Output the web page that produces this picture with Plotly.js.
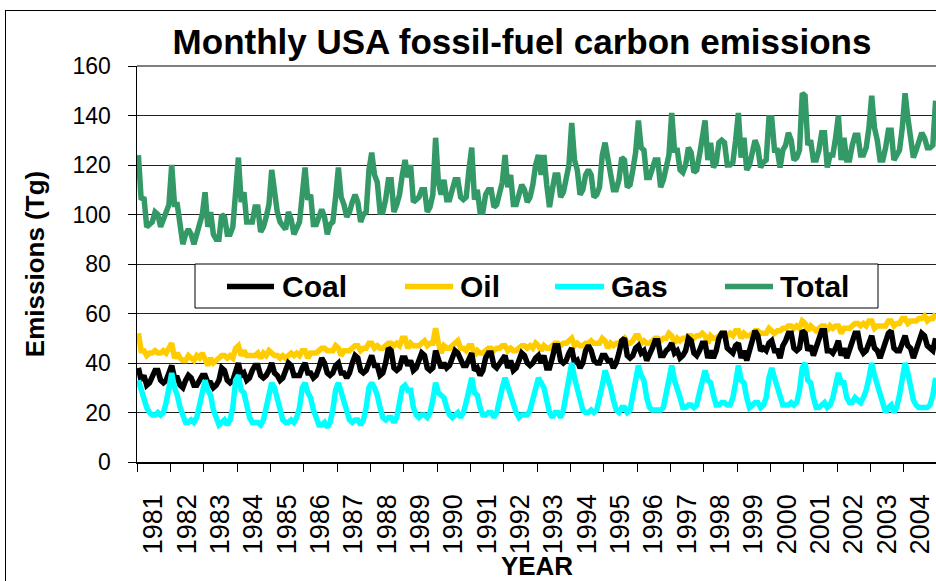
<!DOCTYPE html>
<html><head><meta charset="utf-8">
<script src="https://cdn.plot.ly/plotly-3.0.1.min.js"></script>
<style>
html,body{margin:0;padding:0;background:#fff;overflow:hidden;width:936px;height:581px;}
#chart{position:absolute;left:0;top:0;width:937px;height:581px;}
#frame{position:absolute;left:5px;top:10px;width:1000px;height:1000px;border-left:1px solid #000;border-top:1px solid #000;pointer-events:none;}
</style></head><body>
<div id="chart"></div><div id="frame"></div>
<script>
const years = ['1981','1982','1983','1984','1985','1986','1987','1988','1989','1990','1991','1992',
               '1993','1994','1995','1996','1997','1998','1999','2000','2001','2002','2003','2004'];
const seriesNames = ['Coal','Oil','Gas','Total'];

// monthly values (Tg), one row per year, Jan..Dec
const coal = [
 38,33,35,31,32,35,37,37,33,32,33,36,
 39,34,34,31,30,33,35,34,31,31,33,35,
 35,32,32,30,31,33,38,37,33,32,33,37,
 40,35,36,33,34,37,39,39,35,34,35,37,
 40,36,35,33,34,37,40,39,35,35,35,38,
 40,36,36,34,35,38,42,40,36,35,36,39,
 40,36,36,34,36,40,43,42,37,36,37,40,
 43,39,39,35,36,40,46,45,38,37,38,42,
 42,39,41,37,38,41,44,43,38,37,38,45,
 42,38,40,38,39,43,45,44,41,39,39,42,
 44,37,38,35,37,42,44,44,39,38,40,41,
 43,38,41,37,38,41,44,43,40,39,40,42,
 43,40,43,38,38,42,47,47,41,40,41,44,
 46,40,41,38,40,45,47,45,41,40,40,43,
 43,41,41,38,40,44,49,50,43,42,43,46,
 47,44,45,41,43,46,49,49,43,43,45,46,
 48,44,45,42,43,45,50,49,44,43,45,48,
 48,42,45,42,45,50,52,52,46,45,44,47,
 48,42,45,41,45,49,53,51,45,46,45,48,
 49,45,45,42,47,49,52,52,46,45,46,53,
 52,45,47,43,46,49,53,53,45,45,44,46,
 49,43,46,42,45,49,52,52,46,44,45,48,
 51,46,45,42,45,48,52,53,46,45,45,48,
 51,47,46,42,45,49,52,51,47,46,45,50
];
const oil = [
 52,45,45,43,44,44,45,44,44,45,44,46,
 48,42,44,42,41,41,43,42,41,43,42,44,
 42,39,42,40,41,42,43,43,42,43,42,46,
 47,43,45,43,43,43,43,44,42,44,43,45,
 44,43,43,42,43,42,43,44,43,44,43,45,
 45,42,44,44,44,45,46,46,45,45,45,47,
 46,43,45,45,45,46,47,47,45,46,46,48,
 48,46,47,46,46,47,48,48,47,48,47,50,
 50,46,48,47,47,47,48,49,47,48,48,54,
 48,44,47,46,46,47,48,49,46,46,45,47,
 47,43,45,44,44,45,46,46,45,46,46,47,
 47,45,46,45,45,46,47,47,46,47,46,48,
 47,45,47,46,46,47,48,48,47,48,48,49,
 50,47,48,47,47,48,48,49,48,48,48,50,
 49,46,48,47,48,48,49,50,48,48,49,51,
 51,48,49,48,48,49,50,50,49,50,50,52,
 51,48,50,49,50,50,51,51,50,51,51,52,
 51,48,51,50,50,51,52,52,51,52,51,53,
 53,50,52,51,51,52,53,53,52,52,52,54,
 53,52,53,53,54,54,55,55,54,55,54,57,
 56,53,55,54,53,54,55,55,53,55,54,55,
 55,52,54,54,54,55,56,56,55,56,55,57,
 57,54,55,55,55,55,57,57,55,56,56,58,
 58,56,57,57,57,58,58,59,57,58,58,60
];
const gas = [
 33,29,26,22,20,19,19,20,19,20,24,30,
 36,30,27,22,18,16,16,17,16,18,23,29,
 33,29,27,21,17,15,16,17,15,17,22,33,
 35,29,28,22,18,16,16,16,15,17,22,28,
 32,30,26,20,17,16,16,17,16,18,22,30,
 32,28,26,21,17,15,15,16,14,16,21,29,
 32,28,25,20,17,16,17,17,15,17,22,30,
 32,30,27,22,18,17,18,18,16,18,23,30,
 31,29,29,22,19,18,19,19,18,20,25,32,
 28,27,26,22,19,18,19,20,18,20,24,30,
 34,28,27,22,19,19,20,20,18,20,26,30,
 34,30,28,24,20,18,19,19,19,21,26,31,
 34,32,30,25,20,18,20,20,18,21,27,32,
 40,34,29,24,21,20,20,21,20,21,25,31,
 37,34,30,25,21,20,22,22,20,21,27,34,
 39,35,33,26,22,21,21,21,21,22,28,33,
 39,33,30,26,22,22,23,23,22,23,28,33,
 37,33,32,27,23,23,24,24,23,23,26,32,
 39,33,32,26,22,23,24,24,22,23,26,34,
 38,34,30,26,23,23,23,24,23,24,29,38,
 40,33,32,26,22,22,23,24,22,23,26,32,
 36,32,32,26,24,24,26,25,24,26,29,34,
 40,35,31,26,22,20,22,23,20,22,27,34,
 40,36,31,25,23,22,22,22,22,23,27,34
];
const total = [
 124,106,107,95,96,97,101,100,95,98,100,104,
 120,104,104,95,88,92,94,92,88,92,97,100,
 109,95,101,92,90,90,100,99,92,92,95,112,
 123,105,109,97,97,97,103,103,93,95,99,104,
 118,108,101,97,95,94,101,98,92,95,97,108,
 119,106,108,96,96,99,102,99,92,96,97,107,
 119,107,104,99,101,105,108,105,97,100,101,118,
 125,116,113,101,101,106,114,114,101,104,108,116,
 122,115,120,105,106,107,110,110,101,103,108,131,
 113,108,114,106,106,110,114,114,107,106,107,118,
 127,106,110,101,101,108,110,110,103,104,110,113,
 124,111,116,104,104,108,112,110,105,107,112,120,
 124,116,124,112,103,110,116,116,107,109,115,120,
 137,122,118,108,110,116,118,116,107,108,111,124,
 129,122,118,110,110,114,123,122,111,112,118,125,
 138,127,126,115,115,118,122,122,111,114,120,124,
 141,126,126,118,117,120,127,125,117,118,124,133,
 138,122,129,119,121,129,130,129,120,120,121,130,
 141,123,131,118,120,125,130,127,119,121,122,139,
 139,126,126,119,126,128,133,130,122,123,126,149,
 148,128,130,122,122,126,133,133,119,124,124,131,
 140,122,131,122,122,128,132,132,124,124,127,135,
 148,135,130,122,122,127,134,134,122,124,126,135,
 149,139,131,123,126,130,133,131,127,127,128,146
];

const colors = {Coal:'#000000', Oil:'#FFCC00', Gas:'#00FFFF', Total:'#339966'};
const valuesByName = {Coal:coal, Oil:oil, Gas:gas, Total:total};

const nMonths = years.length * 12;
const xIdx = Array.from({length:nMonths}, (_, i) => i);
const yearCenters = years.map((_, k) => k*12 + 5.5);
const yearBounds = Array.from({length:years.length+1}, (_, k) => k*12 - 0.5);

const drawOrder = ['Oil','Coal','Gas','Total'];
const traces = drawOrder.map(n => ({
  type:'scatter', mode:'lines', name:n, x:xIdx, y:valuesByName[n],
  line:{color:colors[n], width:5.5}, showlegend:false, hoverinfo:'skip'
}));

// plot-area pixel geometry
const L = 137, R = 937, T = 66, B = 462;
const px = v => (v - L) / (R - L);
const py = v => (B - v) / (B - T);

const legendItems = [
  {name:'Coal', x0:227, x1:274, tx:280},
  {name:'Oil', x0:405, x1:453, tx:458},
  {name:'Gas', x0:555, x1:604, tx:609},
  {name:'Total', x0:725, x1:773, tx:778}
];
const legY = 286.5;

const shapes = [
  {type:'line', xref:'paper', yref:'paper', x0:0, x1:1, y0:1, y1:1, line:{color:'#808080', width:2}},
  {type:'rect', xref:'paper', yref:'paper', x0:px(195), x1:px(878), y0:py(308), y1:py(264),
   fillcolor:'#ffffff', line:{color:'#000000', width:1}, layer:'above'}
];
const annotations = [];
legendItems.forEach(it => {
  shapes.push({type:'line', xref:'paper', yref:'paper', x0:px(it.x0), x1:px(it.x1), y0:py(legY), y1:py(legY),
    line:{color:colors[it.name], width:5.5}, layer:'above'});
  annotations.push({xref:'paper', yref:'paper', x:px(it.tx), y:py(legY), xanchor:'left', yanchor:'middle',
    text:'<b>'+seriesNames[seriesNames.indexOf(it.name)]+'</b>', showarrow:false,
    font:{family:'Arial, Liberation Sans, sans-serif', size:30, color:'#000'}});
});

const layout = {
  width:937, height:581,
  margin:{l:L, r:937-R, t:T, b:581-B, pad:0},
  paper_bgcolor:'#ffffff', plot_bgcolor:'#ffffff',
  font:{family:'Arial, Liberation Sans, sans-serif', color:'#000'},
  title:{text:'<b>Monthly USA fossil-fuel carbon emissions</b>', x:522/937, xanchor:'center',
         y:1-42/581, yanchor:'middle', yref:'container', font:{size:35, color:'#000'}},
  xaxis:{range:[-0.5, nMonths-0.5], tickmode:'array', tickvals:yearCenters, ticktext:years,
         tickangle:-90, ticks:'outside', ticklen:20, tickcolor:'rgba(0,0,0,0)',
         tickfont:{size:27}, showline:true, linecolor:'#000', linewidth:1.5, showgrid:false, zeroline:false,
         minor:{tickmode:'array', tickvals:yearBounds, ticks:'outside', ticklen:8, tickcolor:'#000', tickwidth:1, showgrid:false},
         title:{text:'<b>YEAR</b>', font:{size:26}, standoff:4}},
  yaxis:{range:[0,160], dtick:20, tick0:0, ticks:'outside', ticklen:8, tickcolor:'#000', tickwidth:1,
         ticklabelstandoff:12,
         tickfont:{size:23}, showline:true, linecolor:'#000', linewidth:1.5,
         showgrid:true, gridcolor:'#222', gridwidth:1, zeroline:false,
         title:{text:'<b>Emissions (Tg)</b>', font:{size:26}, standoff:20}},
  shapes:shapes, annotations:annotations, showlegend:false
};

Plotly.newPlot('chart', traces, layout, {staticPlot:true, displayModeBar:false});
</script>
</body></html>
